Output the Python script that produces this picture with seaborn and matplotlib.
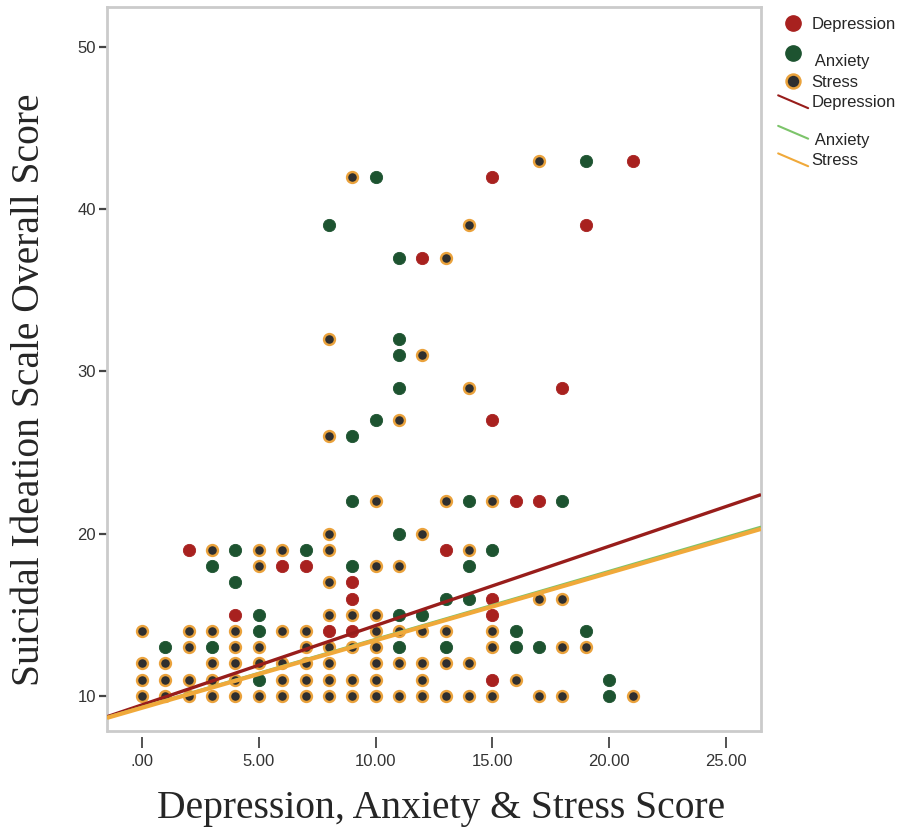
import matplotlib
matplotlib.use('Agg')
import matplotlib.pyplot as plt
import seaborn as sns
import pandas as pd
import numpy as np
from matplotlib.lines import Line2D
from matplotlib.legend_handler import HandlerBase

# ---------------------------------------------------------------------------
# data (score on x, SIS overall score on y)
# ---------------------------------------------------------------------------
depression_pts = [(2, 19), (13, 19), (6, 18), (7, 18), (9, 17), (9, 16), (15, 16),
                  (4, 15), (15, 15), (8, 14), (9, 14), (15, 11), (16, 22), (17, 22),
                  (15, 27), (18, 29), (12, 37), (19, 39), (15, 42), (21, 43)]

anxiety_pts = [(4, 19), (7, 19), (15, 19), (3, 18), (9, 18), (14, 18), (4, 17),
               (13, 16), (14, 16), (5, 15), (11, 15), (12, 15), (5, 14), (16, 14),
               (19, 14), (1, 13), (3, 13), (11, 13), (13, 13), (16, 13), (17, 13),
               (5, 11), (20, 11), (20, 10), (11, 20), (9, 22), (14, 22), (18, 22),
               (9, 26), (10, 27), (11, 29), (11, 31), (11, 32), (11, 37), (8, 39),
               (10, 42), (19, 43)]

stress_pts = [(0, 10), (1, 10), (2, 10), (3, 10), (4, 10), (5, 10), (6, 10), (7, 10),
              (8, 10), (9, 10), (10, 10), (11, 10), (12, 10), (13, 10), (14, 10),
              (15, 10), (17, 10), (18, 10), (21, 10),
              (0, 11), (1, 11), (2, 11), (3, 11), (4, 11), (6, 11), (7, 11), (8, 11),
              (9, 11), (10, 11), (12, 11), (16, 11),
              (0, 12), (1, 12), (3, 12), (4, 12), (5, 12), (6, 12), (7, 12), (8, 12),
              (10, 12), (11, 12), (12, 12), (13, 12), (14, 12),
              (2, 13), (4, 13), (5, 13), (7, 13), (8, 13), (9, 13), (10, 13), (15, 13),
              (18, 13), (19, 13),
              (0, 14), (2, 14), (3, 14), (4, 14), (6, 14), (7, 14), (10, 14), (11, 14),
              (12, 14), (13, 14), (15, 14),
              (8, 15), (9, 15), (10, 15), (17, 16), (18, 16), (8, 17),
              (5, 18), (10, 18), (11, 18), (3, 19), (5, 19), (6, 19), (8, 19), (14, 19),
              (8, 20), (12, 20), (10, 22), (13, 22), (15, 22),
              (8, 26), (11, 27), (14, 29), (12, 31), (8, 32), (13, 37), (14, 39),
              (9, 42), (17, 43)]

# fit lines (intercept, slope) as shown in the chart
fit_names = ['Depression', 'Anxiety', 'Stress']
fit_intercepts = [9.45, 9.33, 9.27]
fit_slopes = [0.489, 0.419, 0.416]

x_ticks = [0, 5, 10, 15, 20, 25]
x_tick_labels = ['.00', '5.00', '10.00', '15.00', '20.00', '25.00']
y_ticks = [10, 20, 30, 40, 50]

DEP_C = '#a8211f'
ANX_C = '#1d5330'
STR_FACE = '#2f2f2f'
STR_EDGE = '#eaa23c'
DEP_LINE = '#981d1b'
ANX_LINE = '#7cc46a'
STR_LINE = '#f0a93a'

# ---------------------------------------------------------------------------
# figure
# ---------------------------------------------------------------------------
sns.set_style('white')
plt.rcParams['font.family'] = ['Liberation Sans', 'DejaVu Sans']

fig = plt.figure(figsize=(9.08, 8.30), dpi=100)
ax = fig.add_axes([0.1178, 0.1193, 0.7203, 0.8723])

dep = pd.DataFrame(depression_pts, columns=['x', 'y'])
anx = pd.DataFrame(anxiety_pts, columns=['x', 'y'])
stre = pd.DataFrame(stress_pts, columns=['x', 'y'])

sns.scatterplot(data=dep, x='x', y='y', color=DEP_C, edgecolor=DEP_C, s=78,
                linewidth=0.6, ax=ax, zorder=3)
sns.scatterplot(data=anx, x='x', y='y', color=ANX_C, edgecolor=ANX_C, s=78,
                linewidth=0.6, ax=ax, zorder=3)
sns.scatterplot(data=stre, x='x', y='y', color=STR_FACE, edgecolor=STR_EDGE, s=62,
                linewidth=1.7, ax=ax, zorder=3)

xlim = (-1.5, 26.5)
xs = np.array(xlim)
line_cols = [DEP_LINE, ANX_LINE, STR_LINE]
line_widths = [2.4, 1.6, 3.0]
line_z = [4, 4, 5]
for i in range(len(fit_names)):
    ax.plot(xs, fit_intercepts[i] + fit_slopes[i] * xs, color=line_cols[i],
            lw=line_widths[i], zorder=line_z[i], solid_capstyle='butt')

ax.set_xlim(*xlim)
ax.set_ylim(7.84, 52.47)
ax.set_xticks(x_ticks)
ax.set_xticklabels(x_tick_labels)
ax.set_yticks(y_ticks)

# frame: light grey box, x ticks detached below it
frame_c = '#cbcbcb'
for side in ['left', 'top', 'right']:
    ax.spines[side].set_color(frame_c)
    ax.spines[side].set_linewidth(2)
ax.spines['bottom'].set_position(('outward', 4.5))
ax.spines['bottom'].set_visible(False)
ax.plot([0, 1], [0, 0], transform=ax.transAxes, color=frame_c, lw=2, clip_on=False)

ax.tick_params(axis='y', direction='out', length=6, width=1.6, color='#444444',
               labelsize=12, labelcolor='#333333', pad=2, left=True)
ax.tick_params(axis='x', direction='out', length=8, width=1.3, color='#444444',
               labelsize=12, labelcolor='#333333', pad=4, bottom=True)

ax.set_xlabel('Depression, Anxiety & Stress Score', family='Liberation Serif',
              fontsize=28.5)
ax.set_ylabel('Suicidal Ideation Scale Overall Score', family='Liberation Serif',
              fontsize=28.5)
ax.xaxis.set_label_coords(0.511, -0.081)
ax.yaxis.set_label_coords(-0.09, 0.471)


# legend: dots first, then the fit lines drawn as short slanted strokes
class SlantLine(HandlerBase):
    def create_artists(self, legend, orig_handle, xdescent, ydescent, width,
                       height, fontsize, trans):
        ln = Line2D([-xdescent, width - xdescent],
                    [height * 1.0 - ydescent, -ydescent - height * 0.1],
                    color=orig_handle.get_color(),
                    lw=orig_handle.get_linewidth(), transform=trans)
        return [ln]


handles = [
    Line2D([], [], ls='', marker='o', markersize=11, markerfacecolor=DEP_C,
           markeredgecolor=DEP_C),
    Line2D([], [], ls='', marker='o', markersize=11, markerfacecolor=ANX_C,
           markeredgecolor=ANX_C),
    Line2D([], [], ls='', marker='o', markersize=10, markerfacecolor=STR_FACE,
           markeredgecolor=STR_EDGE, markeredgewidth=1.8),
    Line2D([], [], color=DEP_LINE, lw=1.5),
    Line2D([], [], color=ANX_LINE, lw=1.5),
    Line2D([], [], color=STR_LINE, lw=1.5),
]
labels = ['Depression', '\n Anxiety', 'Stress', 'Depression', '\n Anxiety', 'Stress']
fig.legend(handles, labels, loc='upper left', bbox_to_anchor=(0.857, 0.98),
           frameon=False, fontsize=12, handlelength=1.8, handletextpad=0.2,
           labelspacing=0.32, borderpad=0, borderaxespad=0,
           handler_map={h: SlantLine() for h in handles[3:]})

fig.savefig('out.png', dpi=100, facecolor='white')
